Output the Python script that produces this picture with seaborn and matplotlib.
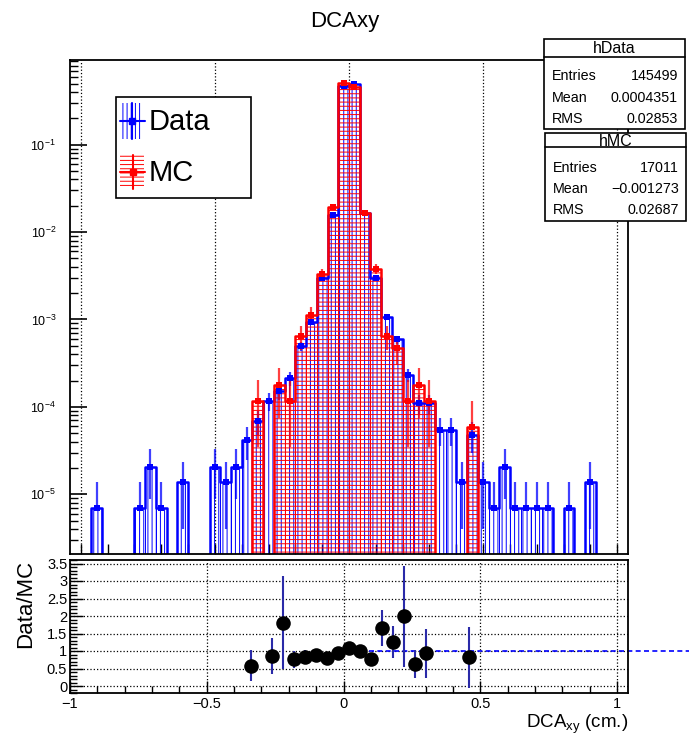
import numpy as np
import pandas as pd
import matplotlib
matplotlib.use("Agg")
import matplotlib.pyplot as plt
import seaborn as sns
from matplotlib.patches import Rectangle
from matplotlib.lines import Line2D
from matplotlib.ticker import MultipleLocator, LogLocator, NullFormatter

# ---------------- data ----------------
bin_lo, bin_hi, bin_w = -1.04, 1.04, 0.04

data_centers = [-0.94, -0.78, -0.74, -0.70, -0.62, -0.50, -0.46, -0.42, -0.38,
                -0.34, -0.30, -0.26, -0.22, -0.18, -0.14, -0.10, -0.06, -0.02,
                0.02, 0.06, 0.10, 0.14, 0.18, 0.22, 0.26, 0.30, 0.34, 0.38,
                0.42, 0.46, 0.50, 0.54, 0.58, 0.62, 0.66, 0.70, 0.74, 0.82, 0.90]
data_counts = [1, 1, 3, 1, 2, 3, 2, 3, 6,
               10, 17, 22, 31, 72, 136, 434, 2286, 68303,
               71001, 2386, 434, 155, 86, 34, 16, 16, 8, 8,
               2, 7, 2, 1, 3, 1, 1, 1, 1, 1, 2]

mc_centers = [-0.34, -0.26, -0.22, -0.18, -0.14, -0.10, -0.06, -0.02,
              0.02, 0.06, 0.10, 0.14, 0.18, 0.22, 0.26, 0.30, 0.46]
mc_counts = [2, 3, 2, 11, 19, 57, 330, 8550,
             7666, 279, 65, 11, 8, 2, 3, 2, 1]

stat_labels = ["Entries", "Mean", "RMS"]
data_stat_values = ["145499", "0.0004351", "0.02853"]
mc_stat_values = ["17011", "\u22120.001273", "0.02687"]

x_ticks = [-1, -0.5, 0, 0.5, 1]
x_tick_labels = ["\u22121", "\u22120.5", "0", "0.5", "1"]
ratio_ticks = [0, 0.5, 1, 1.5, 2, 2.5, 3, 3.5]
ratio_tick_labels = ["0", "0.5", "1", "1.5", "2", "2.5", "3", "3.5"]

# ---------------- style ----------------
sns.set_theme(style="ticks")
plt.rcParams['font.family'] = ['Liberation Sans', 'DejaVu Sans']
plt.rcParams['mathtext.default'] = 'regular'
plt.rcParams['hatch.linewidth'] = 0.7
plt.rcParams['axes.edgecolor'] = 'black'
plt.rcParams['axes.linewidth'] = 1.3
plt.rcParams['text.color'] = 'black'
plt.rcParams['axes.labelcolor'] = 'black'
plt.rcParams['xtick.color'] = 'black'
plt.rcParams['ytick.color'] = 'black'

W, H = 689, 740
fig = plt.figure(figsize=(W / 100, H / 100), dpi=100)
fig.patch.set_facecolor('white')


def fx(px):
    return px / W


def fy(py):
    return 1 - py / H


ax = fig.add_axes([fx(70), fy(554), fx(628) - fx(70), fy(60) - fy(554)])
axr = fig.add_axes([fx(70), fy(693), fx(628) - fx(70), fy(560) - fy(693)])

edges = [float(e) for e in np.round(np.arange(bin_lo, bin_hi + bin_w / 2, bin_w), 4)]

dfd = pd.DataFrame({"x": data_centers, "n": data_counts})
dfd["w"] = dfd.n / dfd.n.sum()
dfm = pd.DataFrame({"x": mc_centers, "n": mc_counts})
dfm["w"] = dfm.n / dfm.n.sum()

# ---------------- top panel ----------------
ax.set_yscale('log')
sns.histplot(data=dfd, x="x", weights="w", bins=edges, element="bars", fill=False,
             color="blue", hatch="||||", linewidth=0.6, ax=ax)
sns.histplot(data=dfm, x="x", weights="w", bins=edges, element="bars", fill=False,
             color="red", hatch="----", linewidth=0.6, ax=ax)
sns.histplot(data=dfd, x="x", weights="w", bins=edges, element="step", fill=False,
             color="blue", linewidth=1.8, ax=ax)
sns.histplot(data=dfm, x="x", weights="w", bins=edges, element="step", fill=False,
             color="red", linewidth=1.8, ax=ax)

for df, col in ((dfd, (0, 0, 1)), (dfm, (1, 0, 0))):
    err = np.sqrt(df.n) / df.n.sum()
    lower = np.where(df.n > 1, err, 0)
    ax.errorbar(df.x, df.w, yerr=[lower, err], fmt='none', ecolor=col + (0.75,),
                elinewidth=1.6, capsize=0, zorder=4)
    sns.scatterplot(data=df, x="x", y="w", marker='s', color=col, s=24,
                    linewidth=0, legend=False, zorder=5, ax=ax)

ax.set_xlim(bin_lo, bin_hi)
ax.set_ylim(2.07e-6, 0.93)
ax.set_xticks(x_ticks)
ax.xaxis.set_minor_locator(MultipleLocator(0.1))
ax.tick_params(axis='x', which='both', direction='in', labelbottom=False,
               length=7, width=1)
ax.yaxis.set_major_locator(LogLocator(base=10, numticks=12))
ax.yaxis.set_minor_locator(LogLocator(base=10, subs=np.arange(2, 10), numticks=30))
ax.yaxis.set_minor_formatter(NullFormatter())
ax.tick_params(axis='y', which='major', direction='in', length=12, width=1.2,
               labelsize=9, pad=10)
ax.tick_params(axis='y', which='minor', direction='in', length=6, width=1)
ax.grid(axis='x', which='major', ls=':', color='black', lw=0.9)
ax.set_xlabel('')
ax.set_ylabel('')

# ---------------- ratio panel ----------------
merged = dfd.merge(dfm, on="x", suffixes=("_d", "_m"))
merged["ratio"] = merged.w_d / merged.w_m
merged["rerr"] = merged.ratio * np.sqrt(1 / merged.n_d + 1 / merged.n_m)

axr.plot([0, 1.4], [1, 1], ls=(0, (3, 2)), color='blue', lw=1.2, clip_on=False, zorder=2)
axr.errorbar(merged.x, merged.ratio, yerr=merged.rerr, fmt='none', ecolor='#2a2aa8',
             elinewidth=1.5, capsize=0, zorder=3)
sns.scatterplot(data=merged, x="x", y="ratio", marker='o', color='black', s=110,
                edgecolor='black', linewidth=0, legend=False, zorder=4, ax=axr)

axr.set_xlim(-1, 1.04)
axr.set_ylim(-0.2, 3.6)
axr.set_xticks(x_ticks, x_tick_labels)
axr.xaxis.set_minor_locator(MultipleLocator(0.1))
axr.set_yticks(ratio_ticks, ratio_tick_labels)
axr.yaxis.set_minor_locator(MultipleLocator(0.1))
axr.tick_params(axis='both', which='major', direction='in', length=9, width=1,
                labelsize=10.5)
axr.tick_params(axis='both', which='minor', direction='in', length=5, width=1)
axr.tick_params(axis='y', which='major', pad=2)
axr.tick_params(axis='x', which='major', pad=3)
axr.grid(True, which='major', ls=':', color='black', lw=0.9)
axr.set_ylabel('Data/MC', fontsize=16, loc='top')
axr.yaxis.set_label_coords(-0.06, 1.0)
axr.set_xlabel('DCA$_{xy}$ (cm.)', fontsize=13.5, loc='right')
axr.xaxis.set_label_coords(1.0, -0.15)

# ---------------- title ----------------
fig.text(0.5, fy(22), 'DCAxy', ha='center', va='center', fontsize=16)


# ---------------- boxes ----------------
def rect(x0, y0, x1, y1, **kw):
    r = Rectangle((fx(x0), fy(y1)), fx(x1) - fx(x0), fy(y0) - fy(y1),
                  transform=fig.transFigure, **kw)
    fig.add_artist(r)
    return r


def hline(x0, x1, y, **kw):
    fig.add_artist(Line2D([fx(x0), fx(x1)], [fy(y), fy(y)], transform=fig.transFigure, **kw))


def vline(x, y0, y1, **kw):
    fig.add_artist(Line2D([fx(x), fx(x)], [fy(y0), fy(y1)], transform=fig.transFigure, **kw))


def stats_box(x0, y0, x1, y1, ysep, title, ytitle, rows_y, values):
    rect(x0, y0, x1, y1, facecolor='white', edgecolor='black', lw=1.2, zorder=6)
    hline(x0, x1, ysep, color='black', lw=1.2, zorder=7)
    fig.text(fx((x0 + x1) / 2), fy(ytitle), title, ha='center', va='baseline',
             fontsize=11.5, zorder=8)
    for lab, val, yy in zip(stat_labels, values, rows_y):
        fig.text(fx(x0 + 8), fy(yy), lab, ha='left', va='baseline', fontsize=10.3, zorder=8)
        fig.text(fx(x1 - 7), fy(yy), val, ha='right', va='baseline', fontsize=10.3, zorder=8)


stats_box(544, 39, 685, 129, 57, 'hData', 53, [80, 101.7, 122.7], data_stat_values)
stats_box(545, 133, 686, 221, 147, 'hMC', 146, [171.7, 192.7, 214.3], mc_stat_values)

# legend
rect(116, 97, 251, 198, facecolor='white', edgecolor='black', lw=1.2, zorder=6)
rect(120, 103, 142, 139, facecolor='none', edgecolor='blue', hatch='||||', lw=0, zorder=7)
vline(132, 103, 139, color='blue', lw=1.5, zorder=8)
hline(120, 145, 121, color='blue', lw=1.5, zorder=8)
fig.add_artist(Line2D([fx(132)], [fy(121)], marker='s', color='blue', markersize=4.5,
                      transform=fig.transFigure, zorder=9))
fig.text(fx(149), fy(122), 'Data', ha='left', va='center', fontsize=21, zorder=8)

rect(120, 155, 144, 189, facecolor='none', edgecolor='red', hatch='----', lw=0, zorder=7)
vline(133, 155, 189, color='red', lw=1.5, zorder=8)
hline(120, 145, 172, color='red', lw=1.5, zorder=8)
fig.add_artist(Line2D([fx(133)], [fy(172)], marker='s', color='red', markersize=5,
                      transform=fig.transFigure, zorder=9))
fig.text(fx(149), fy(173), 'MC', ha='left', va='center', fontsize=21, zorder=8)

fig.savefig('out.png', dpi=100, facecolor='white')
